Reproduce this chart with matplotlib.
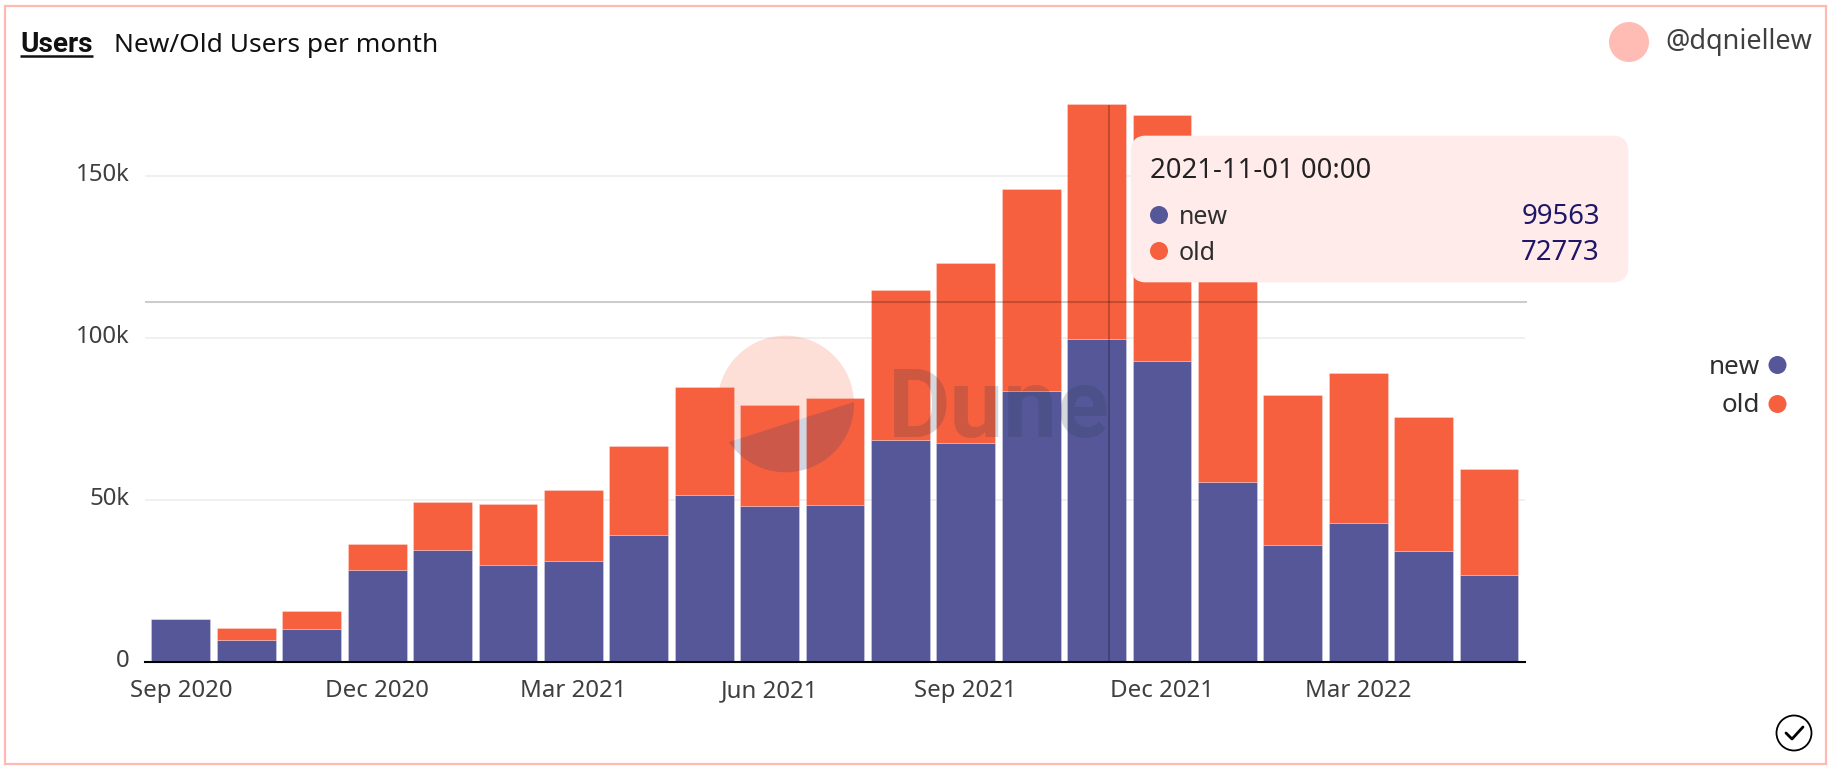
import numpy as np
import matplotlib
matplotlib.use('Agg')
import matplotlib.pyplot as plt
from matplotlib.patches import Circle, FancyBboxPatch, Rectangle
from matplotlib.transforms import ScaledTranslation

W, H = 1831, 767

# values (Jan 2022 total is hidden by the tooltip, estimated)
months = ['Sep 2020', 'Oct 2020', 'Nov 2020', 'Dec 2020', 'Jan 2021', 'Feb 2021', 'Mar 2021',
          'Apr 2021', 'May 2021', 'Jun 2021', 'Jul 2021', 'Aug 2021', 'Sep 2021', 'Oct 2021',
          'Nov 2021', 'Dec 2021', 'Jan 2022', 'Feb 2022', 'Mar 2022', 'Apr 2022', 'May 2022']
new_users = [13300, 6800, 10200, 28400, 34700, 30000, 31100, 39200, 51500, 48300, 48600,
             68400, 67700, 83500, 99563, 92900, 55500, 36100, 42800, 34400, 26900]
old_users = [0, 3600, 5600, 8000, 14600, 18800, 21900, 27400, 33500, 31000, 32800,
             46500, 55500, 62500, 72773, 76000, 79500, 46400, 46500, 41300, 32600]
y_ticks = [0, 50000, 100000, 150000]
y_labels = ['0', '50k', '100k', '150k']

NAVY = '#565799'
ORANGE = '#f6603e'
PINK = '#ffb9b1'
TEXT = '#3f3f3f'
FONT = 'Noto Sans'
plt.rcParams['font.family'] = [FONT, 'DejaVu Sans']


def px(n):
    # font size in points for a height given in pixels at dpi 100
    return n * 0.72


fig = plt.figure(figsize=(W / 100, H / 100), dpi=100, facecolor='white')

# main axes placed so that 0 sits on y=662 and 150k on y=176
left, right, base, top = 145, 1525, 662, 100
ax = fig.add_axes([left / W, 1 - base / H, (right - left) / W, (base - top) / H])
ax.set_ylim(0, (base - top) / 3.24 * 1000)
ax.set_xlim(-0.549, 20.55)

x = np.arange(len(months))
edge = (1, 1, 1, 0.25)
ax.bar(x, new_users, width=0.9, color=NAVY, edgecolor=edge, linewidth=0.7, zorder=3)
ax.bar(x, old_users, width=0.9, bottom=new_users, color=ORANGE, edgecolor=edge, linewidth=0.7, zorder=3)

ax.set_yticks(y_ticks)
ax.set_yticklabels(y_labels, fontsize=px(24), color=TEXT)
ax.set_xticks(x[::3])
ax.set_xticklabels(months[::3], fontsize=px(24), color=TEXT, va='baseline')
ax.tick_params(axis='both', length=0)
ax.tick_params(axis='y', pad=11)
ax.tick_params(axis='x', pad=25.2)
for lab in ax.get_yticklabels():
    lab.set_transform(lab.get_transform() + ScaledTranslation(0, 4 / 100, fig.dpi_scale_trans))
ax.grid(axis='y', color='#f0f0f0', linewidth=1.4, zorder=0)
ax.set_axisbelow(True)
for s in ['top', 'right', 'left']:
    ax.spines[s].set_visible(False)
ax.spines['bottom'].set_color('black')
ax.spines['bottom'].set_linewidth(1.5)
ax.spines['bottom'].set_zorder(4)
ax.patch.set_alpha(0)

# overlay in picture pixels for everything that is not data
ov = fig.add_axes([0, 0, 1, 1])
ov.set_xlim(0, W)
ov.set_ylim(H, 0)
ov.axis('off')
ov.patch.set_alpha(0)

ov.add_patch(Rectangle((5.5, 6), 1821, 758, fill=False, edgecolor=PINK, linewidth=1.6))

# title line
ov.text(20, 52, 'Users', fontsize=px(28), family='Roboto', fontweight='bold', color='#111111', va='baseline')
ov.plot([20, 93], [55.5, 55.5], color='#111111', linewidth=1.8, solid_capstyle='butt')
ov.text(114, 52, 'New/Old Users per month', fontsize=px(26.3), color='#111111', va='baseline')

# author
ov.add_patch(Circle((1629, 42), 20, color='#ffbcb4', linewidth=0))
ov.text(1665, 42, '@dqniellew', fontsize=px(27), color=TEXT, va='center')

# watermark
cx, cy, r = 785.7, 404, 68.3
t = np.radians(np.linspace(146.2, 358.3, 90))
ov.fill(cx + r * np.cos(t), cy + r * np.sin(t), color=ORANGE, alpha=0.2, linewidth=0, zorder=1)
t = np.radians(np.linspace(-1.7, 146.2, 90))
ov.fill(cx + r * np.cos(t), cy + r * np.sin(t), color='#3a3f78', alpha=0.22, linewidth=0, zorder=1)
ov.text(888, 437, 'Dune', fontsize=px(96), family='Roboto', fontweight='bold', color='#2a3c50',
        alpha=0.2, va='baseline', zorder=1)

# crosshair
ov.plot([left, right + 2], [301.5, 301.5], color='black', alpha=0.2, linewidth=1.5, zorder=2,
        solid_capstyle='butt')
ov.plot([1109.5, 1109.5], [105, base], color='black', alpha=0.22, linewidth=1.5, zorder=2,
        solid_capstyle='butt')

# tooltip
ov.add_patch(FancyBboxPatch((1139, 144), 481, 130, boxstyle='round,pad=0,rounding_size=6',
                            mutation_aspect=1, facecolor='#ffecea', edgecolor='#ffecea',
                            linewidth=12, zorder=5, joinstyle='round'))
ov.text(1150, 171, '2021-11-01 00:00', fontsize=px(27.5), color='#222222', va='center', zorder=6)
tooltip_rows = [('new', new_users[14], NAVY, 215), ('old', old_users[14], ORANGE, 251)]
for name, val, col, yy in tooltip_rows:
    ov.add_patch(Circle((1159, yy), 9, color=col, linewidth=0, zorder=6))
    ov.text(1179, yy + 2, name, fontsize=px(25), color='#2e2e2e', va='center', zorder=6)
    ov.text(1600, yy + 2, str(val), fontsize=px(27.5), color='#1f1668', va='center', ha='right', zorder=6)

# legend
for name, col, yy in [('new', NAVY, 365), ('old', ORANGE, 404)]:
    ov.text(1760, yy + 2, name, fontsize=px(26), color='#2e2e2e', va='center', ha='right')
    ov.add_patch(Circle((1777.5, yy), 9, color=col, linewidth=0))

# check icon
ov.add_patch(Circle((1794, 733), 17.5, fill=False, edgecolor='black', linewidth=1.3))
ov.plot([1786, 1792, 1803], [733, 739, 727], color='black', linewidth=2, solid_capstyle='round',
        solid_joinstyle='round')

fig.savefig('out.png', dpi=100)
